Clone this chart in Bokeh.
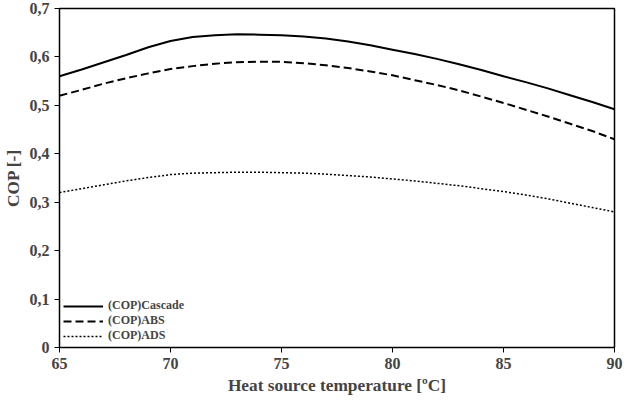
from bokeh.plotting import figure
from bokeh.embed import file_html
from bokeh.resources import INLINE
from bokeh.models import CustomJSTickFormatter, FixedTicker, Legend, LegendItem

temps = [65, 66, 67, 68, 69, 70, 71, 72, 73, 74, 75, 76, 77, 78, 79, 80, 81, 82, 83, 84, 85, 86, 87, 88, 89, 90]
cop_cascade = [0.560, 0.574, 0.589, 0.604, 0.620, 0.633, 0.641, 0.645, 0.647, 0.646, 0.645, 0.642, 0.638, 0.632, 0.624, 0.615, 0.606, 0.596, 0.585, 0.573, 0.560, 0.548, 0.535, 0.521, 0.507, 0.492]
cop_abs = [0.520, 0.532, 0.545, 0.556, 0.566, 0.575, 0.581, 0.586, 0.589, 0.590, 0.590, 0.587, 0.583, 0.577, 0.570, 0.562, 0.552, 0.542, 0.531, 0.518, 0.505, 0.491, 0.477, 0.462, 0.447, 0.430]
cop_ads = [0.320, 0.328, 0.336, 0.344, 0.351, 0.357, 0.360, 0.361, 0.362, 0.362, 0.361, 0.360, 0.358, 0.355, 0.352, 0.348, 0.344, 0.339, 0.334, 0.328, 0.322, 0.315, 0.307, 0.298, 0.289, 0.280]
names = ["(COP)Cascade", "(COP)ABS", "(COP)ADS"]

F = "Liberation Serif"
p = figure(width=624, height=397, x_range=(65, 90), y_range=(0, 0.7),
           output_backend="svg", toolbar_location=None)
p.outline_line_color = "black"
p.outline_line_width = 1.5
p.xgrid.visible = False
p.ygrid.visible = False
p.min_border_left = 55
p.min_border_right = 10
p.min_border_top = 8

r1 = p.line(temps, cop_cascade, line_color="black", line_width=2)
r2 = p.line(temps, cop_abs, line_color="black", line_width=2, line_dash="8 4")
r3 = p.line(temps, cop_ads, line_color="black", line_width=1.5, line_dash="2 2")

p.xaxis.ticker = FixedTicker(ticks=[65, 70, 75, 80, 85, 90])
p.yaxis.ticker = FixedTicker(ticks=[0, 0.1, 0.2, 0.3, 0.4, 0.5, 0.6, 0.7])
p.yaxis.formatter = CustomJSTickFormatter(code="return tick==0 ? '0' : tick.toFixed(1).replace('.', ',');")
for ax in (p.xaxis, p.yaxis):
    ax.major_label_text_font = F
    ax.major_label_text_font_style = "bold"
    ax.major_label_text_font_size = "12pt"
    ax.axis_label_text_font = F
    ax.axis_label_text_font_style = "bold"
    ax.axis_label_text_font_size = "13pt"
    ax.minor_tick_line_color = None
    ax.major_tick_in = 0
    ax.major_tick_out = 5
    ax.axis_label_standoff = 4
    ax.axis_line_color = "black"
p.xaxis.axis_label = "Heat source temperature [ºC]"
p.yaxis.axis_label = "COP [-]"

leg = Legend(items=[LegendItem(label=n, renderers=[r]) for n, r in zip(names, [r1, r2, r3])],
             location="bottom_left", background_fill_alpha=0, border_line_color=None,
             label_text_font=F, label_text_font_style="bold", label_text_font_size="9pt",
             spacing=-6, glyph_width=40, margin=4, label_height=14, glyph_height=14)
p.add_layout(leg)

open("out.html", "w").write(file_html(p, INLINE))
